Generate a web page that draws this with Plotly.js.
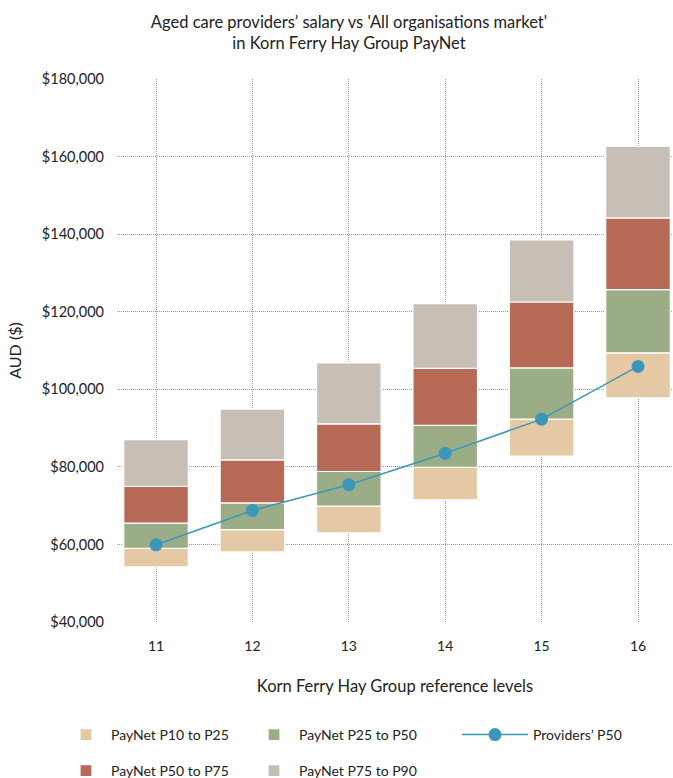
<!DOCTYPE html>
<html>
<head>
<meta charset="utf-8">
<script src="https://cdn.plot.ly/plotly-3.0.1.min.js"></script>
<style>html,body{margin:0;padding:0;background:#fff;}#chart{width:673px;height:778px;}</style>
</head>
<body>
<div id="chart"></div>
<script>
// Data
const levels = [11, 12, 13, 14, 15, 16];
const tickLabels = ['11', '12', '13', '14', '15', '16'];
const p10 = [54200, 58100, 63000, 71500, 82800, 97800];
const p25 = [59000, 63800, 69900, 79900, 92300, 109400];
const p50 = [65500, 70700, 78800, 90700, 105500, 125700];
const p75 = [75000, 81800, 91100, 105400, 122500, 144200];
const p90 = [87000, 94900, 106800, 122100, 138500, 162600];
const providersP50 = [59900, 68750, 75400, 83500, 92300, 105900];
const yTicks = [40000, 60000, 80000, 100000, 120000, 140000, 160000, 180000];

const FONT = 'Lato, "Noto Sans", sans-serif';
const TXT = '#222222';

function band(name, lo, hi, color, legend) {
  return {
    type: 'bar', name: name, x: levels,
    base: lo, y: hi.map((v, i) => v - lo[i]),
    width: 0.67,
    marker: {color: color, line: {color: '#ffffff', width: 1.2}},
    legend: legend,
    hoverinfo: 'skip'
  };
}

const traces = [
  band('PayNet P10 to P25', p10, p25, '#E5C9A4', 'legend'),
  band('PayNet P25 to P50', p25, p50, '#9AAD87', 'legend2'),
  band('PayNet P50 to P75', p50, p75, '#B66A56', 'legend4'),
  band('PayNet P75 to P90', p75, p90, '#C7BEB5', 'legend5'),
  {
    type: 'scatter', mode: 'lines+markers', name: 'Providers\u2019 P50',
    x: levels, y: providersP50,
    line: {color: '#3A97B9', width: 1.5},
    marker: {color: '#3A97B9', size: 13},
    legend: 'legend3'
  }
];

const gridColor = '#A89886';
function leg(xpx, ypx, itemw) {
  return {
    orientation: 'h', xref: 'container', yref: 'container',
    xanchor: 'left', yanchor: 'middle', x: xpx / 673, y: (778 - ypx) / 778,
    font: {family: FONT, size: 14, color: TXT},
    itemwidth: itemw || 40, bgcolor: 'rgba(0,0,0,0)'
  };
}

const layout = {
  width: 673, height: 778,
  margin: {l: 117, r: 0, t: 79, b: 156},
  paper_bgcolor: '#ffffff', plot_bgcolor: '#ffffff',
  font: {family: FONT, size: 14, color: TXT},
  barmode: 'overlay',
  title: {
    text: 'Aged care providers\u2019 salary vs \'All organisations market\'<br>in Korn Ferry Hay Group PayNet',
    font: {family: FONT, size: 16.5, color: TXT},
    x: 349 / 673, xref: 'container', xanchor: 'center',
    y: 1 - 28 / 778, yref: 'container', yanchor: 'middle'
  },
  xaxis: {
    type: 'linear', range: [10.595, 16.363],
    tickvals: levels, ticktext: tickLabels,
    showgrid: true, gridcolor: gridColor, griddash: '1px,1px', gridwidth: 1,
    zeroline: false, showline: false, ticks: '',
    ticklabelstandoff: 14,
    tickfont: {family: FONT, size: 14, color: TXT},
    title: {text: 'Korn Ferry Hay Group reference levels', font: {family: FONT, size: 16.5, color: TXT}, standoff: 27}
  },
  yaxis: {
    range: [40000, 180000],
    tickvals: yTicks, tickformat: '$,.0f',
    showgrid: true, gridcolor: gridColor, griddash: '1px,1px', gridwidth: 1,
    zeroline: false, showline: false, ticks: '',
    ticklabelstandoff: 12,
    tickfont: {family: FONT, size: 14.5, color: TXT},
    title: {text: 'AUD ($)', font: {family: FONT, size: 16, color: TXT}, standoff: 16}
  },
  showlegend: true,
  legend: leg(61, 735),
  legend2: leg(249, 735),
  legend3: leg(457, 735, 66),
  legend4: leg(61, 771),
  legend5: leg(249, 771)
};

Plotly.newPlot('chart', traces, layout, {displayModeBar: false, responsive: false});
</script>
</body>
</html>
